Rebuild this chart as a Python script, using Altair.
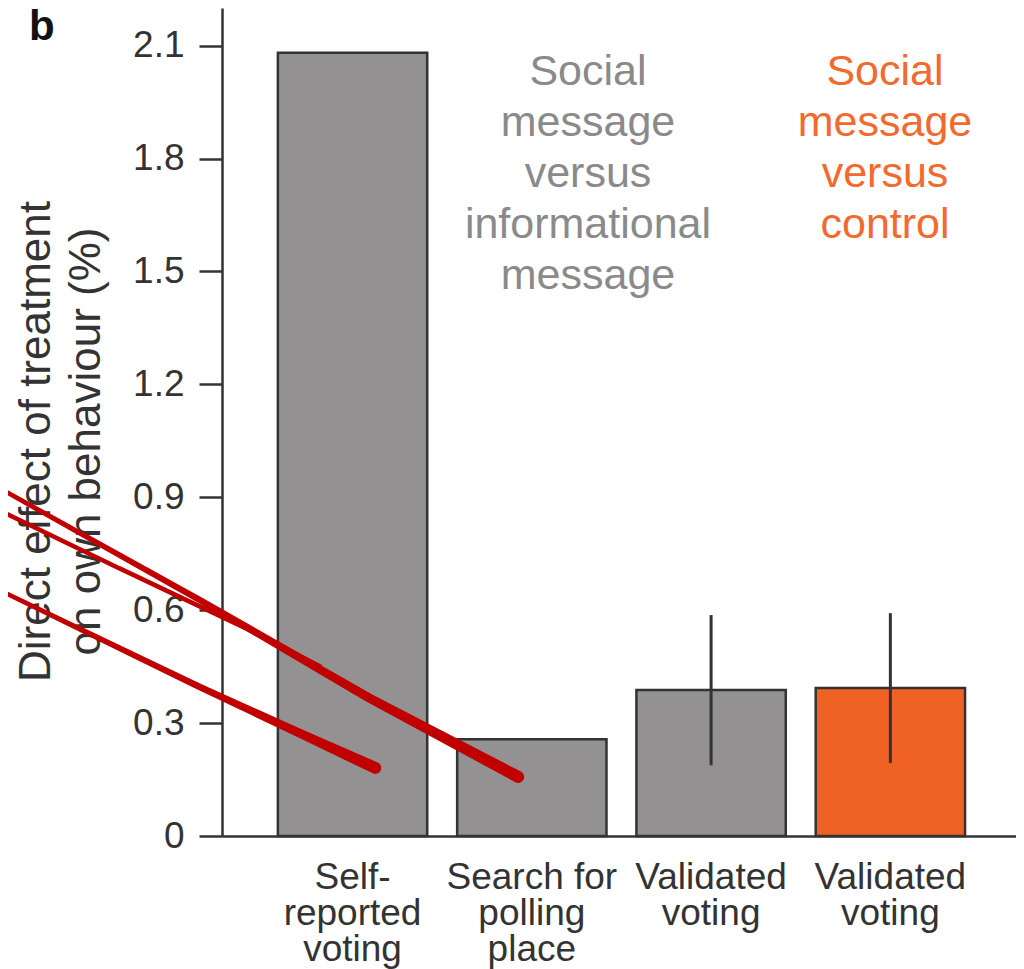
import json
import altair as alt
import pandas as pd

# ---- data ----
bar_index = [0, 1, 2, 3]
bar_labels = [["Self-", "reported", "voting"],
              ["Search for", "polling", "place"],
              ["Validated", "voting"],
              ["Validated", "voting"]]
comparison = ["Social message versus informational message"] * 3 + ["Social message versus control"]
effects = [2.081, 0.257, 0.388, 0.393]
err_low = [None, None, 0.188, 0.194]
err_high = [None, None, 0.587, 0.592]
y_ticks = [0, 0.3, 0.6, 0.9, 1.2, 1.5, 1.8, 2.1]

# red overlay strokes (x as fraction of plot width, y in % units, width px)
stroke_id = ["A"] * 4 + ["B"] * 4 + ["C"] * 4
stroke_order = [0, 1, 2, 3] * 3
stroke_x = [-0.280, -0.028, 0.098, 0.193,
            -0.280, -0.028, 0.186, 0.373,
            -0.280, -0.129, 0.035, 0.123]
stroke_y = [0.653, 0.396, 0.273, 0.181,
            0.924, 0.627, 0.366, 0.157,
            0.865, 0.711, 0.547, 0.451]
stroke_w = [4.5, 6.5, 9, 12,
            4.5, 6.5, 9, 12,
            4.5, 4.5, 4.5, 4.5]

FONT = "Liberation Sans"
DARK = "#333333"
GRAY = "#939192"
ORANGE = "#F06224"

df = pd.DataFrame({
    "idx": bar_index,
    "effect": effects,
    "lo": err_low,
    "hi": err_high,
    "comparison": comparison,
})
df_red = pd.DataFrame({"line": stroke_id, "i": stroke_order, "xf": stroke_x,
                       "effect": stroke_y, "w": stroke_w})

y_scale = alt.Scale(domain=[0, 2.2], nice=False, zero=True)
y_axis = alt.Axis(
    values=y_ticks,
    labelExpr="datum.value == 0 ? '0' : format(datum.value, '.1f')",
    grid=False,
    tickSize=23, tickWidth=2.5, tickColor=DARK,
    domainColor=DARK, domainWidth=2.5,
    labelFont=FONT, labelFontSize=37, labelColor=DARK, labelPadding=15,
    title=["Direct effect of treatment", "on own behaviour (%)"],
    titleFont=FONT, titleFontSize=44, titleFontWeight="normal", titleColor=DARK,
    titleLineHeight=50, titleAngle=-90, titleAlign="center",
    titleBaseline="alphabetic", titleX=-173, titleY=433,
)
x_scale = alt.Scale(paddingInner=0.167, paddingOuter=0.298, align=0.523)
x_axis = alt.Axis(
    title=None, ticks=False, labelAngle=0,
    labelExpr=json.dumps(bar_labels) + "[datum.value]",
    labelFont=FONT, labelFontSize=37, labelLineHeight=36, labelColor=DARK,
    labelPadding=23, labelLimit=0, labelOverlap=False,
    domainColor=DARK, domainWidth=2.5,
)

bars = alt.Chart(df).mark_bar(stroke=DARK, strokeWidth=2.5).encode(
    x=alt.X("idx:O", scale=x_scale, axis=x_axis),
    y=alt.Y("effect:Q", scale=y_scale, axis=y_axis),
    color=alt.Color("comparison:N",
                    scale=alt.Scale(domain=[comparison[0], comparison[3]],
                                    range=[GRAY, ORANGE]),
                    legend=None),
)
errs = alt.Chart(df).transform_filter("isValid(datum.lo)").mark_rule(
    color=DARK, strokeWidth=3
).encode(
    x=alt.X("idx:O", scale=x_scale, axis=x_axis),
    y=alt.Y("lo:Q", scale=y_scale, axis=y_axis),
    y2="hi:Q",
)

red = alt.Chart(df_red).mark_trail(color="#C00000").encode(
    x=alt.X("xf:Q", scale=alt.Scale(domain=[0, 1], nice=False, zero=False), axis=None),
    y=alt.Y("effect:Q", scale=y_scale, axis=y_axis),
    size=alt.Size("w:Q", scale=None, legend=None),
    detail="line:N",
    order="i:Q",
)

ann = pd.DataFrame({"t": ["x"]})
gray_text = alt.Chart(ann).mark_text(
    text="Social\nmessage\nversus\ninformational\nmessage", lineBreak="\n",
    font=FONT, fontSize=43, lineHeight=51, color="#8a8a8a",
    align="center", baseline="alphabetic",
).encode(x=alt.value(366), y=alt.value(77))
orange_text = alt.Chart(ann).mark_text(
    text="Social\nmessage\nversus\ncontrol", lineBreak="\n",
    font=FONT, fontSize=43, lineHeight=51, color="#F26A2E",
    align="center", baseline="alphabetic",
).encode(x=alt.value(663), y=alt.value(77))
panel = alt.Chart(ann).mark_text(
    text="b", font=FONT, fontSize=42, fontWeight="bold", color="#111111",
    align="left", baseline="alphabetic",
).encode(x=alt.value(-193), y=alt.value(32))

inner = alt.layer(bars, errs)
chart = alt.layer(inner, red, gray_text, orange_text, panel).resolve_scale(
    x="independent"
).properties(
    width=794, height=828,
    padding={"left": 214, "top": 0, "right": 0, "bottom": 133},
    autosize=alt.AutoSizeParams(type="none"),
).configure_view(stroke=None)

chart.save("out.html", embed_options={"renderer": "svg", "actions": False})
